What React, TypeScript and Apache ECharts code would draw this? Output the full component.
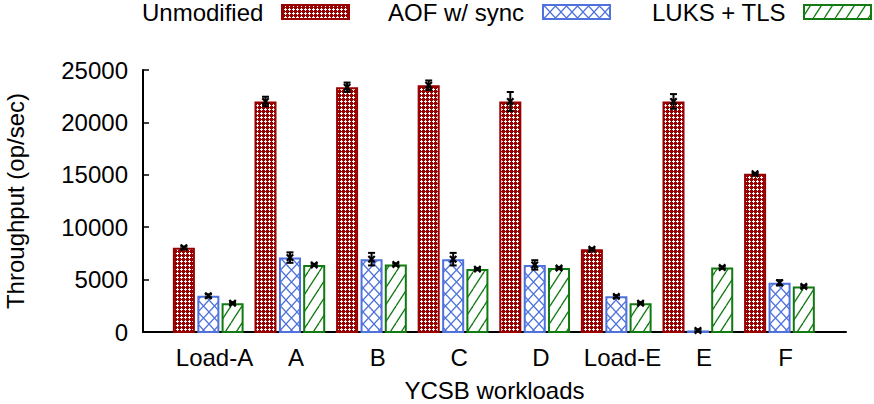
import React, { useEffect, useRef } from 'react';
import * as echarts from 'echarts';

const categories = ['Load-A', 'A', 'B', 'C', 'D', 'Load-E', 'E', 'F'];
const seriesNames = ['Unmodified', 'AOF w/ sync', 'LUKS + TLS'];
const unmodified = [8050, 22000, 23350, 23550, 22000, 7900, 22000, 15100];
const unmodifiedErr = [100, 450, 450, 450, 900, 100, 700, 80];
const aofSync = [3450, 7100, 6950, 6950, 6400, 3400, 150, 4700];
const aofSyncErr = [150, 500, 600, 600, 450, 120, 100, 250];
const luksTls = [2750, 6400, 6450, 6000, 6100, 2750, 6150, 4350];
const luksTlsErr = [100, 100, 100, 100, 100, 100, 100, 100];
const yTicks = [0, 5000, 10000, 15000, 20000, 25000];

const FONT = '"Liberation Sans", Arial, Helvetica, sans-serif';
const RED = '#990000';
const BLUE = '#4f72dc';
const GREEN = '#117a11';

function makePattern(w: number, h: number, draw: (ctx: CanvasRenderingContext2D) => void) {
  const c = document.createElement('canvas');
  c.width = w;
  c.height = h;
  const ctx = c.getContext('2d')!;
  draw(ctx);
  return { image: c.toDataURL(), imageWidth: w, imageHeight: h, repeat: 'repeat' };
}

export default function App() {
  const ref = useRef<HTMLDivElement>(null);
  useEffect(() => {
    if (!ref.current) return;
    const chart = echarts.init(ref.current, undefined, { renderer: 'svg' });

    const redPat = makePattern(4, 4, (ctx) => {
      ctx.fillStyle = RED;
      ctx.fillRect(0, 0, 4, 4);
      ctx.fillStyle = '#ffffff';
      ctx.fillRect(1, 0, 1, 3);
      ctx.fillRect(0, 1, 3, 1);
    });
    const bluePat = makePattern(11, 12, (ctx) => {
      ctx.fillStyle = '#ffffff';
      ctx.fillRect(0, 0, 11, 12);
      ctx.strokeStyle = BLUE;
      ctx.lineWidth = 1.3;
      for (const dx of [-11, 0, 11]) {
        ctx.beginPath();
        ctx.moveTo(dx, 0);
        ctx.lineTo(dx + 11, 12);
        ctx.moveTo(dx + 11, 0);
        ctx.lineTo(dx, 12);
        ctx.stroke();
      }
    });
    const greenPat = makePattern(11, 17, (ctx) => {
      ctx.fillStyle = '#ffffff';
      ctx.fillRect(0, 0, 11, 17);
      ctx.strokeStyle = GREEN;
      ctx.lineWidth = 1.3;
      for (const dx of [-11, 0, 11]) {
        ctx.beginPath();
        ctx.moveTo(dx, 17);
        ctx.lineTo(dx + 11, 0);
        ctx.stroke();
      }
    });

    const values = [unmodified, aofSync, luksTls];
    const errs = [unmodifiedErr, aofSyncErr, luksTlsErr];
    const fills = [redPat, bluePat, greenPat];
    const strokes = [RED, BLUE, GREEN];
    const offsets = [-0.375, -0.075, 0.222];
    const barW = 0.27;

    const barSeries = values.map((vals, s) => ({
      type: 'custom',
      name: seriesNames[s],
      data: vals.map((v, i) => [i, v]),
      encode: { x: 0, y: 1 },
      z: 3,
      renderItem: (params: any, api: any) => {
        const i = api.value(0);
        const v = api.value(1);
        const top = api.coord([i + offsets[s], v]);
        const base = api.coord([i + offsets[s], 0]);
        const w = api.size([barW, 0])[0];
        const h = Math.max(base[1] - top[1] - 1, 0.5);
        return {
          type: 'rect',
          shape: { x: top[0] - w / 2 + 1, y: top[1] + 1, width: w - 2, height: h },
          style: { fill: fills[s], stroke: strokes[s], lineWidth: 2 },
        };
      },
    }));

    const errSeries = values.map((vals, s) => ({
      type: 'custom',
      name: seriesNames[s] + ' err',
      data: vals.map((v, i) => [i, v, errs[s][i]]),
      encode: { x: 0, y: 1 },
      z: 5,
      renderItem: (params: any, api: any) => {
        const i = api.value(0);
        const v = api.value(1);
        const e = api.value(2);
        const c = api.coord([i + offsets[s], v]);
        const hi = api.coord([i + offsets[s], v + e]);
        const lo = api.coord([i + offsets[s], Math.max(v - e, 0)]);
        const cap = 3.5;
        const m = 3.2;
        const st = { stroke: '#000', lineWidth: 2 };
        return {
          type: 'group',
          children: [
            { type: 'line', shape: { x1: c[0], y1: hi[1], x2: c[0], y2: lo[1] }, style: st },
            { type: 'line', shape: { x1: c[0] - cap, y1: hi[1], x2: c[0] + cap, y2: hi[1] }, style: st },
            { type: 'line', shape: { x1: c[0] - cap, y1: lo[1], x2: c[0] + cap, y2: lo[1] }, style: st },
            { type: 'line', shape: { x1: c[0] - m, y1: c[1] - m, x2: c[0] + m, y2: c[1] + m }, style: { stroke: '#000', lineWidth: 2.2 } },
            { type: 'line', shape: { x1: c[0] - m, y1: c[1] + m, x2: c[0] + m, y2: c[1] - m }, style: { stroke: '#000', lineWidth: 2.2 } },
          ],
        };
      },
    }));

    const legendX = [142, 388, 652];
    const swatchX = [282, 543, 804];
    const graphics: any[] = [];
    seriesNames.forEach((n, s) => {
      graphics.push({
        type: 'text',
        left: legendX[s],
        top: 0,
        style: { text: n, font: `24px ${FONT}`, fill: '#000' },
      });
      graphics.push({
        type: 'rect',
        shape: { x: swatchX[s], y: 5, width: 67, height: 14 },
        style: { fill: fills[s], stroke: strokes[s], lineWidth: 2 },
      });
    });

    chart.setOption({
      animation: false,
      backgroundColor: '#ffffff',
      textStyle: { fontFamily: FONT },
      grid: { left: 143, right: 28, top: 70, bottom: 72, containLabel: false, outerBoundsMode: 'none' },
      xAxis: {
        type: 'value',
        min: -0.876,
        max: 7.739,
        name: 'YCSB workloads',
        nameLocation: 'middle',
        nameGap: 46,
        nameTextStyle: { fontSize: 24, lineHeight: 24, color: '#000', fontFamily: FONT },
        axisLine: { show: true, onZero: false, lineStyle: { color: '#000', width: 2 } },
        axisTick: { show: false },
        splitLine: { show: false },
        axisLabel: {
          customValues: categories.map((_, i) => i),
          formatter: (v: number) => categories[Math.round(v)] ?? '',
          fontSize: 24,
          color: '#000',
          fontFamily: FONT,
          margin: 13,
        },
      },
      yAxis: {
        type: 'value',
        min: 0,
        max: 25000,
        interval: 5000,
        name: 'Throughput (op/sec)',
        nameLocation: 'middle',
        nameGap: 116,
        nameTextStyle: { fontSize: 24, color: '#000', fontFamily: FONT },
        axisLine: { show: true, onZero: false, lineStyle: { color: '#000', width: 2 } },
        axisTick: { show: true, inside: true, length: 6, lineStyle: { color: '#000', width: 1.5 } },
        splitLine: { show: false },
        axisLabel: {
          customValues: yTicks,
          formatter: (v: number) => String(v),
          fontSize: 24,
          color: '#000',
          fontFamily: FONT,
          margin: 15,
        },
      },
      graphic: graphics,
      series: [...barSeries, ...errSeries],
    });

    return () => chart.dispose();
  }, []);

  return <div ref={ref} style={{ position: 'fixed', left: 0, top: 0, width: 874, height: 404 }} />;
}
